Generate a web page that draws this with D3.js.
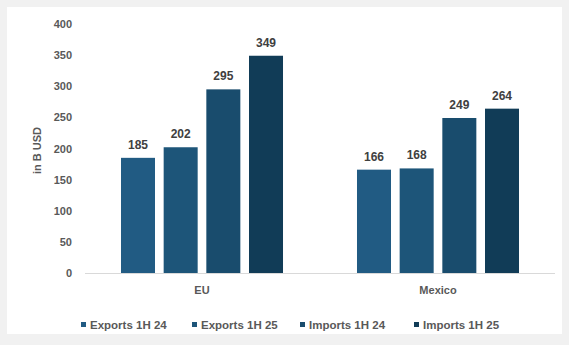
<!DOCTYPE html>
<html>
<head>
<meta charset="utf-8">
<script src="https://cdn.jsdelivr.net/npm/d3@7"></script>
<style>
  html, body { margin: 0; padding: 0; background: #f1f1f1; }
  svg { display: block; }
</style>
</head>
<body>
<svg id="chart" width="569" height="345"></svg>
<script>
// Trade flows, first half of the year, in billions of USD
const regions = ["EU", "Mexico"];
const seriesNames = ["Exports 1H 24", "Exports 1H 25", "Imports 1H 24", "Imports 1H 25"];
const exports24 = [185, 166];
const exports25 = [202, 168];
const imports24 = [295, 249];
const imports25 = [349, 264];
const yTicks = [0, 50, 100, 150, 200, 250, 300, 350, 400];
const seriesColors = ["#215b83", "#1d5579", "#194c6d", "#113c57"];

const seriesValues = [exports24, exports25, imports24, imports25];

const svg = d3.select("#chart");
const W = 569, H = 345;

// card background
svg.append("rect")
  .attr("x", 7).attr("y", 7).attr("width", W - 14).attr("height", 327)
  .attr("fill", "#ffffff");

const plot = { left: 84, right: 556, top: 24, bottom: 273 };

const y = d3.scaleLinear().domain([0, 400]).range([plot.bottom, plot.top]);
const x0 = d3.scaleBand().domain(regions).range([plot.left, plot.right]).paddingInner(0).paddingOuter(0);
const x1 = d3.scaleBand().domain(seriesNames).range([0, x0.bandwidth()]).paddingInner(0.203).paddingOuter(0.867);

const font = "'Liberation Sans', Arial, sans-serif";

// y axis labels
const yAxis = d3.axisLeft(y).tickValues(yTicks).tickSize(0).tickPadding(0);
const gy = svg.append("g").attr("transform", `translate(72,0)`).call(yAxis);
gy.select(".domain").remove();
gy.selectAll("text")
  .attr("fill", "#595959")
  .style("font-family", font)
  .style("font-size", "11px")
  .style("font-weight", "bold");

// y axis title
svg.append("text")
  .attr("transform", `translate(41,${(plot.top + plot.bottom) / 2 + 2}) rotate(-90)`)
  .attr("text-anchor", "middle")
  .attr("fill", "#595959")
  .style("font-family", font)
  .style("font-size", "11px")
  .style("font-weight", "bold")
  .text("in B USD");

// baseline
svg.append("line")
  .attr("x1", 85).attr("x2", 555)
  .attr("y1", plot.bottom + 0.5).attr("y2", plot.bottom + 0.5)
  .attr("stroke", "#d9d9d9").attr("stroke-width", 1);

// bars
const groups = svg.selectAll("g.region")
  .data(regions)
  .join("g")
  .attr("class", "region")
  .attr("transform", d => `translate(${x0(d)},0)`);

groups.selectAll("rect")
  .data((d, i) => seriesNames.map((s, j) => ({ s, v: seriesValues[j][i], j })))
  .join("rect")
  .attr("x", d => x1(d.s))
  .attr("y", d => y(d.v))
  .attr("width", x1.bandwidth())
  .attr("height", d => y(0) - y(d.v))
  .attr("fill", d => seriesColors[d.j]);

groups.selectAll("text.val")
  .data((d, i) => seriesNames.map((s, j) => ({ s, v: seriesValues[j][i] })))
  .join("text")
  .attr("class", "val")
  .attr("x", d => x1(d.s) + x1.bandwidth() / 2)
  .attr("y", d => y(d.v) - 9)
  .attr("text-anchor", "middle")
  .attr("fill", "#404040")
  .style("font-family", font)
  .style("font-size", "12px")
  .style("font-weight", "bold")
  .text(d => d.v);

// category labels
const xAxis = d3.axisBottom(x0).tickSize(0).tickPadding(13);
const gx = svg.append("g").attr("transform", `translate(0,${plot.bottom})`).call(xAxis);
gx.select(".domain").remove();
gx.selectAll("text")
  .attr("fill", "#595959")
  .style("font-family", font)
  .style("font-size", "11px")
  .style("font-weight", "bold");

// legend
const legendX = [81, 192, 300, 414];
const legend = svg.append("g").selectAll("g")
  .data(seriesNames)
  .join("g")
  .attr("transform", (d, i) => `translate(${legendX[i]},329)`);
legend.append("rect")
  .attr("x", 0).attr("y", -7).attr("width", 5).attr("height", 5)
  .attr("fill", (d, i) => seriesColors[i]);
legend.append("text")
  .attr("x", 9).attr("y", 0)
  .attr("fill", "#595959")
  .style("font-family", font)
  .style("font-size", "11.5px")
  .style("font-weight", "bold")
  .text(d => d);
</script>
</body>
</html>
